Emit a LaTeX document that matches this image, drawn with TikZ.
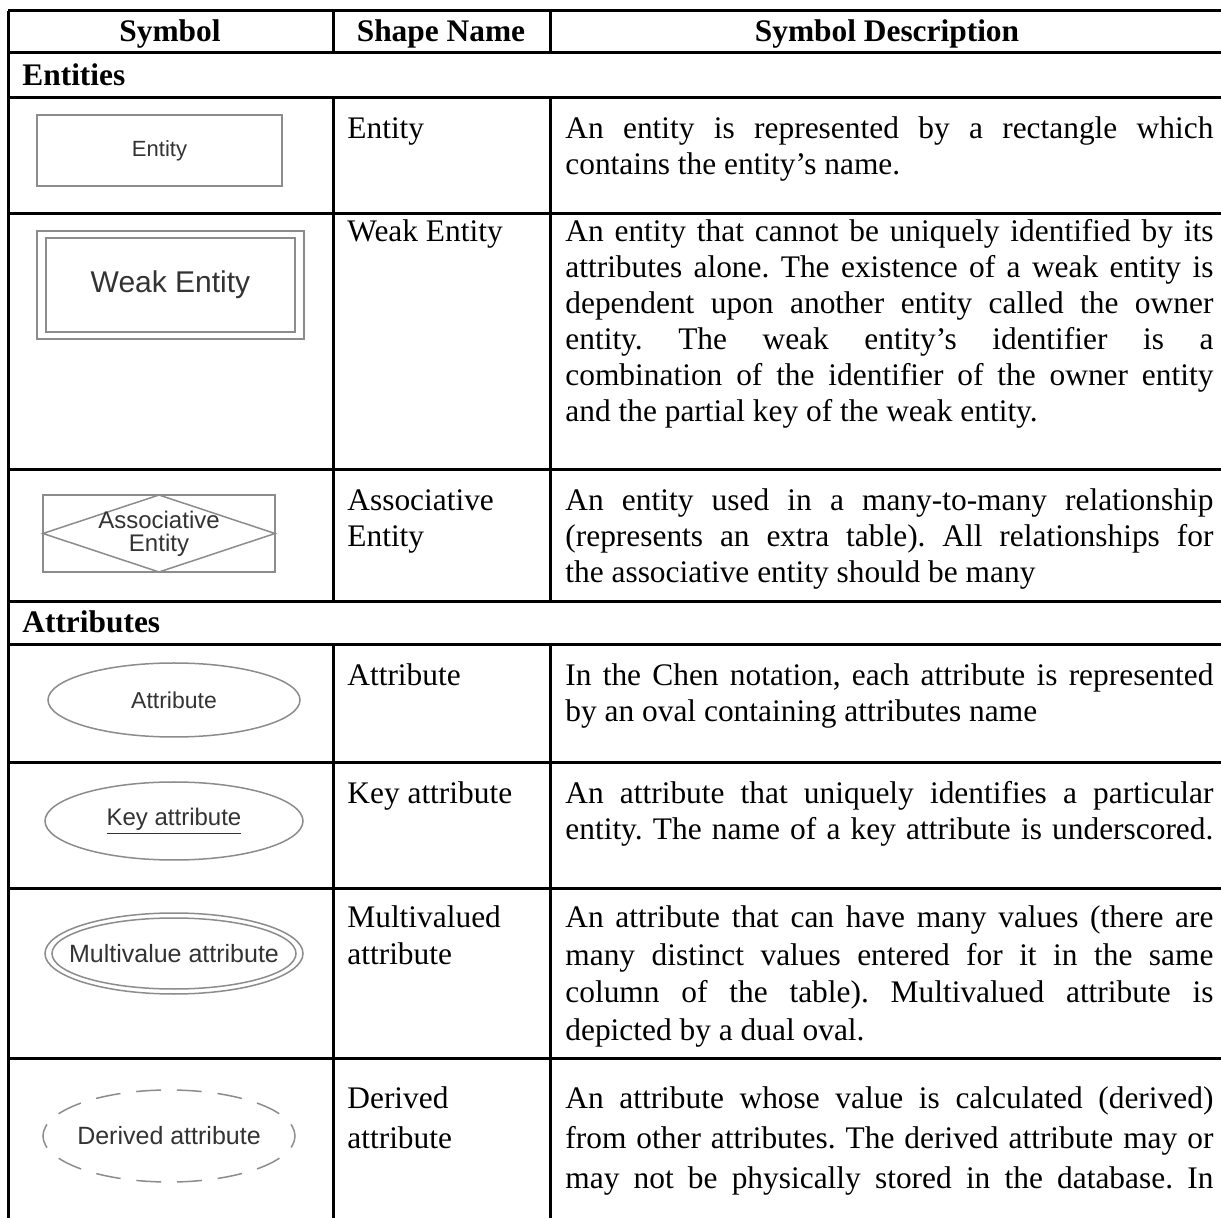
\documentclass[tikz,border=0pt]{standalone}
\usepackage{fontspec}
\setmainfont{Liberation Serif}
\setsansfont{Liberation Sans}
\frenchspacing
\definecolor{symline}{HTML}{8C8C8C}
\definecolor{symink}{HTML}{333333}
\newcommand\bodyfont{\fontsize{15.7}{18}\selectfont}
% a justified line of the description column (interword glue may stretch or shrink)
\newcommand\jl[1]{\leavevmode\hbox to 324pt{\spaceskip=0.25em plus 1em minus 0.12em\relax #1}}
% a line set with the font's own interword space
\newcommand\nl[1]{\leavevmode\hbox{\spaceskip=0pt\relax #1}}
\tikzset{
  rule/.style={line width=1.5pt, draw=black},
  shapeline/.style={draw=symline, line width=0.75pt},
  symlabel/.style={inner sep=0pt, text=symink, align=center, font=\sffamily\fontsize{#1}{#1}\selectfont},
  headcell/.style={anchor=base, inner sep=0pt, font=\bodyfont\bfseries},
  groupcell/.style={anchor=base west, inner sep=0pt, font=\bodyfont\bfseries},
  namecell/.style={anchor=base west, inner sep=0pt, font=\bodyfont, text width=100pt, align=left},
  desccell/.style={anchor=base west, inner sep=0pt, font=\bodyfont, text width=324pt, align=left},
}
\begin{document}
\begin{tikzpicture}[x=0.5pt, y=-0.5pt]
\useasboundingbox (0,0) rectangle (1221,1218);
\fill[white] (0,0) rectangle (1221,1218);

% ---- table rules ----
\foreach \r in {11,53,98,214,470,602,645,763,888,1058}
  \draw[rule] (8,\r) -- (1221,\r);
\draw[rule] (8,11) -- (8,1218);
\foreach \c in {333,550} {
  \draw[rule] (\c,11) -- (\c,53);
  \draw[rule] (\c,98) -- (\c,602);
  \draw[rule] (\c,645) -- (\c,1218);
}

% ---- header ----
\node[headcell] (hsym)  at (170,42) {Symbol};
\node[headcell] (hname) at (441,42) {Shape Name};
\node[headcell] (hdesc) at (887,42) {Symbol Description};

% ---- Entities ----
\node[groupcell] (gent) at (22,86) {Entities};

% Entity
\draw[shapeline] (37,115) rectangle (282,186);
\node[symlabel=11] (sEntity) at (159.5,150.5) {Entity};
\node[namecell] (nEntity) at (347,139) {Entity};
\node[desccell] (dEntity) at (565,139)
  {\jl{An entity is represented by a rectangle which}\\
   \nl{contains the entity’s name.}};

% Weak entity
\draw[shapeline] (37,231) rectangle (304,339);
\draw[shapeline] (46,238) rectangle (295,332);
\node[symlabel=15] (sWeak) at (170.5,285) {Weak Entity};
\node[namecell] (nWeak) at (347,242) {\nl{Weak Entity}};
\node[desccell] (dWeak) at (565,242)
  {\jl{An entity that cannot be uniquely identified by its}\\
   \jl{attributes alone. The existence of a weak entity is}\\
   \jl{dependent upon another entity called the owner}\\
   \jl{entity. The weak entity’s identifier is a}\\
   \jl{combination of the identifier of the owner entity}\\
   \nl{and the partial key of the weak entity.}};

% Associative entity
\draw[shapeline] (43,495) rectangle (275,572);
\draw[shapeline] (43,533.5) -- (159,495) -- (275,533.5) -- (159,572) -- cycle;
\node[symlabel=12, font=\sffamily\fontsize{12}{11.5}\selectfont] (sAssoc) at (159,534) {Associative\\Entity};
\node[namecell] (nAssoc) at (347,511) {Associative\\Entity};
\node[desccell] (dAssoc) at (565,511)
  {\jl{An entity used in a many-to-many relationship}\\
   \jl{(represents an extra table). All relationships for}\\
   \nl{the associative entity should be many}};

% ---- Attributes ----
\node[groupcell] (gatt) at (22,633) {Attributes};

% Attribute
\draw[shapeline] (174,700) ellipse [x radius=63pt, y radius=18.5pt];
\node[symlabel=11.5] (sAttr) at (174,700) {Attribute};
\node[namecell] (nAttr) at (347,686) {Attribute};
\node[desccell] (dAttr) at (565,686)
  {\jl{In the Chen notation, each attribute is represented}\\
   \nl{by an oval containing attributes name}};

% Key attribute
\draw[shapeline] (174,821) ellipse [x radius=64.5pt, y radius=19.5pt];
\node[symlabel=12] (sKey) at (174,821) {\underline{Key attribute}};
\node[namecell] (nKey) at (347,804) {\nl{Key attribute}};
\node[desccell] (dKey) at (565,804)
  {\jl{An attribute that uniquely identifies a particular}\\
   \jl{entity. The name of a key attribute is underscored.}};

% Multivalued attribute
\draw[shapeline] (174,953.5) ellipse [x radius=64.5pt, y radius=20.25pt];
\draw[shapeline] (174,953.5) ellipse [x radius=61pt, y radius=17.75pt];
\node[symlabel=12.5] (sMulti) at (174,953.5) {Multivalue attribute};
\node[namecell] (nMulti) at (347,928) {Multivalued\\attribute};
\node[desccell, font=\fontsize{15.7}{18.7}\selectfont] (dMulti) at (565,928)
  {\jl{An attribute that can have many values (there are}\\
   \jl{many distinct values entered for it in the same}\\
   \jl{column of the table). Multivalued attribute is}\\
   \nl{depicted by a dual oval.}};

% Derived attribute
\draw[shapeline, dash pattern=on 12.4pt off 7.96pt, dash phase=6.2pt]
  (169,1136) ellipse [x radius=63pt, y radius=23pt];
\node[symlabel=12.5] (sDerived) at (169,1136) {Derived attribute};
\node[namecell, font=\fontsize{15.7}{20}\selectfont] (nDerived) at (347,1108) {Derived\\attribute};
\node[desccell, font=\fontsize{15.7}{20}\selectfont] (dDerived) at (565,1108)
  {\jl{An attribute whose value is calculated (derived)}\\
   \jl{from other attributes. The derived attribute may or}\\
   \jl{may not be physically stored in the database. In}};
\end{tikzpicture}
\end{document}
